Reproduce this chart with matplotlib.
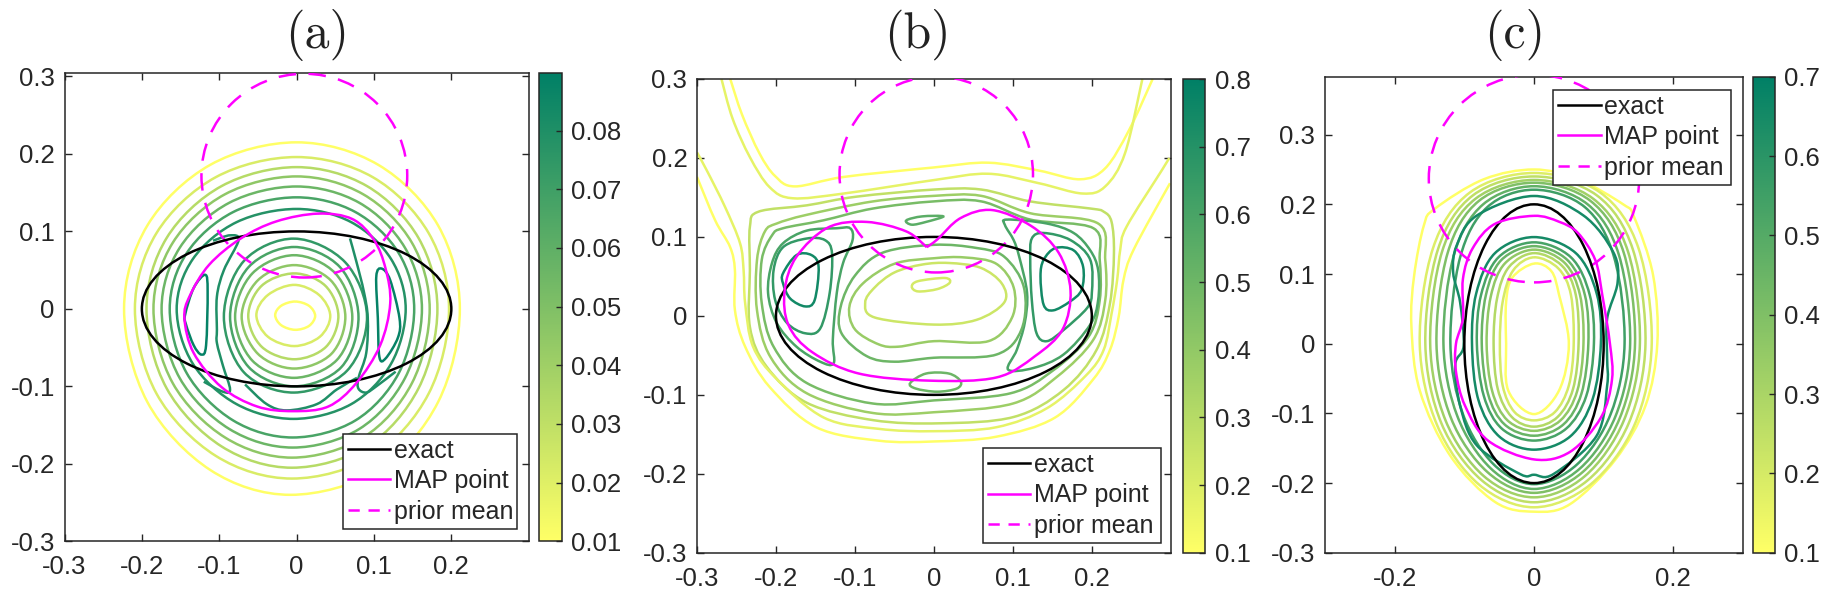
import numpy as np
import matplotlib
matplotlib.use('Agg')
import matplotlib.pyplot as plt
from matplotlib.cm import ScalarMappable
from matplotlib.colors import Normalize
from matplotlib.patches import Ellipse, PathPatch
from matplotlib.path import Path

plt.rcParams['font.family'] = ['Liberation Sans', 'DejaVu Sans']
plt.rcParams['axes.unicode_minus'] = False

# --- panel (a): contour lines, (x, y)
a_rings = [
    [(0, .215), (.1055, .186), (.183, .1075), (.211, 0), (.183, -.12), (.1055, -.208), (-.008, -.24), (-.1115, -.208),
     (-.193, -.12), (-.223, 0), (-.193, .1075), (-.1115, .186)],
    [(0, .196), (.0985, .17), (.1706, .098), (.197, 0), (.1706, -.1095), (.0985, -.1897), (-.006, -.219),
     (-.1045, -.1897), (-.181, -.1095), (-.209, 0), (-.181, .098), (-.1045, .17)],
    [(0, .183), (.091, .1585), (.1576, .0915), (.182, 0), (.1576, -.1025), (.091, -.1775), (-.006, -.205),
     (-.097, -.1775), (-.168, -.1025), (-.194, 0), (-.168, .0915), (-.097, .1585)],
    [(0, .171), (.086, .148), (.149, .0855), (.172, 0), (.149, -.096), (.086, -.166), (-.006, -.192), (-.0925, -.166),
     (-.16, -.096), (-.185, 0), (-.16, .0855), (-.0925, .148)],
    [(0, .158), (.081, .137), (.14, .079), (.162, 0), (.14, -.0895), (.081, -.155), (-.005, -.179), (-.087, -.155),
     (-.151, -.0895), (-.1745, 0), (-.151, .079), (-.087, .137)],
    [(0, .144), (.076, .125), (.132, .072), (.152, 0), (.132, -.083), (.076, -.144), (-.005, -.166), (-.082, -.144),
     (-.142, -.083), (-.164, 0), (-.142, .072), (-.082, .125)],
    [(0, .129), (.0705, .112), (.122, .0645), (.141, 0), (.122, -.071), (.0705, -.123), (-.004, -.142),
     (-.0775, -.123), (-.134, -.071), (-.155, 0), (-.134, .0645), (-.0775, .112)],
    [(-.002, .0095), (.016, .004), (.024, -.009), (.016, -.022), (-.002, -.027), (-.02, -.021), (-.0277, -.008),
     (-.02, .004)],
    [(-.003, .031), (.029, .018), (.0435, -.009), (.03, -.036), (-.003, -.048), (-.037, -.036), (-.052, -.008),
     (-.037, .018)],
    [(-.003, .0458), (.037, .03), (.054, -.009), (.038, -.049), (-.003, -.065), (-.045, -.049), (-.0625, -.009),
     (-.045, .03)],
    [(-.003, .0565), (.044, .037), (.063, -.01), (.045, -.058), (-.003, -.077), (-.05, -.058), (-.071, -.01),
     (-.05, .037)],
    [(-.003, .0693), (.05, .046), (.072, -.01), (.052, -.066), (-.003, -.089), (-.057, -.067), (-.0795, -.01),
     (-.057, .046)],
    [(-.003, .0799), (.056, .054), (.08, -.01), (.058, -.075), (-.003, -.1), (-.062, -.075), (-.086, -.01),
     (-.062, .054)],
    [(-.003, .0907), (.063, .06), (.091, -.01), (.065, -.08), (-.003, -.108), (-.068, -.082), (-.094, -.01),
     (-.068, .062)],
    [(-.144, -.007), (-.133, .027), (-.118, .044), (-.115, .022), (-.117, -.047), (-.123, -.059), (-.133, -.047),
     (-.143, -.02)],
    [(.103, .042), (.11, .052), (.121, .037), (.133, -.012), (.131, -.037), (.115, -.064), (.107, -.062),
     (.105, -.012)],
]
a_ring_levels = [.01, .022, .033, .045, .056, .067, .078, .01, .022, .033, .045, .056, .067, .074, .088, .088]
a_open = [
    [(-.108, .088), (-.086, .095), (-.075, .0886), (-.094, .05), (-.103, .016), (-.103, -.027), (-.103, -.044),
     (-.095, -.074), (-.086, -.104), (-.095, -.107), (-.12, -.094)],
    [(.069, .091), (.077, .062), (.087, .022), (.092, -.012), (.09, -.057), (.08, -.089), (.08, -.103), (.09, -.108),
     (.103, -.1), (.128, -.081)],
    [(-.0666, -.0975), (-.0385, -.123), (-.0126, -.131), (.026, -.123), (.052, -.104), (.078, -.089)],
]
a_open_levels = [.08, .08, .08]
a_map = [(.028, .123), (-.026, .113), (-.072, .091), (-.113, .057), (-.138, .017), (-.145, -.012), (-.133, -.057),
         (-.097, -.101), (-.051, -.126), (-.005, -.132), (.041, -.126), (.077, -.096), (.108, -.047), (.121, .007),
         (.115, .052), (.1, .089), (.072, .116)]

# --- panel (b)
b_rings = [
    [(0, .16), (.06, .16), (.122, .145), (.198, .136), (.215, .132), (.225, .119), (.228, .079), (.223, .016),
     (.206, -.043), (.164, -.094), (.101, -.128), (.008, -.136), (-.077, -.132), (-.161, -.11), (-.212, -.064),
     (-.233, -.014), (-.233, .058), (-.233, .113), (-.222, .132), (-.161, .14), (-.098, .151)],
    [(0, .152), (.06, .152), (.122, .13), (.208, .117), (.217, .071), (.217, .02), (.202, -.03), (.156, -.077),
     (.1, -.111), (0, -.122), (-.077, -.123), (-.161, -.098), (-.207, -.052), (-.224, .007), (-.224, .071),
     (-.214, .107), (-.199, .117), (-.161, .128), (-.077, .145)],
    [(0, .145), (.06, .145), (.122, .122), (.202, .111), (.21, .071), (.21, .02), (.196, -.026), (.151, -.069),
     (.097, -.098), (0, -.107), (-.077, -.111), (-.161, -.085), (-.203, -.039), (-.218, .016), (-.218, .071),
     (-.205, .102), (-.191, .111), (-.14, .121), (-.077, .136)],
    [(-.106, .111), (-.103, .096), (-.115, .067), (-.123, .029), (-.128, -.03), (-.127, -.06), (-.144, -.058),
     (-.174, -.039), (-.199, -.009), (-.21, .029), (-.205, .067), (-.191, .092), (-.161, .108), (-.123, .111)],
    [(.093, .122), (.09, .115), (.101, .096), (.108, .075), (.118, .029), (.115, -.009), (.105, -.043), (.094, -.068),
     (.126, -.066), (.164, -.049), (.198, -.011), (.208, .02), (.208, .058), (.198, .083), (.177, .105), (.143, .117)],
    [(-.203, .058), (-.191, .087), (-.161, .098), (-.138, .096), (-.129, .079), (-.132, .029), (-.144, -.016),
     (-.163, -.022), (-.186, -.009), (-.201, .02)],
    [(.124, .098), (.139, .105), (.173, .096), (.198, .071), (.2, .029), (.194, .01), (.164, -.018), (.143, -.032),
     (.13, -.022), (.124, .02), (.122, .071)],
    [(-.191, .054), (-.174, .077), (-.155, .077), (-.146, .062), (-.151, .02), (-.163, .012), (-.182, .022),
     (-.191, .041)],
    [(.139, .071), (.154, .086), (.177, .083), (.189, .062), (.187, .033), (.172, .018), (.151, .007), (.139, .014),
     (.135, .05)],
    [(-.118, .012), (-.117, -.022), (-.085, -.051), (-.05, -.058), (0, -.053), (.079, -.049), (.111, -.017),
     (.114, .036), (.089, .075), (.054, .086), (0, .09), (-.065, .08), (-.1, .051)],
    [(-.107, .012), (-.1, -.017), (-.07, -.036), (-.045, -.039), (0, -.032), (.069, -.032), (.099, -.002),
     (.101, .036), (.079, .066), (.039, .074), (0, .073), (-.05, .066), (-.09, .041)],
    [(-.087, .017), (-.075, -.002), (0, -.011), (.054, -.005), (.089, .017), (.086, .041), (.059, .061), (.019, .067),
     (-.015, .065), (-.05, .055), (-.075, .036)],
    [(-.028, .037), (-.02, .044), (.014, .048), (.02, .042), (.0045, .034), (-.02, .031)],
    [(-.035, .121), (-.015, .126), (.012, .126), (-.01, .119), (-.028, .1155)],
    [(-.03, -.085), (-.01, -.073), (.019, -.073), (.034, -.083), (.029, -.092), (.004, -.096), (-.023, -.092)],
]
b_ring_levels = [.27, .37, .47, .6, .6, .66, .66, .75, .75, .5, .38, .24, .22, .55, .5]
b_open = [
    [(-.258, .3005), (-.243, .255), (-.221, .206), (-.201, .177), (-.176, .164), (-.114, .176), (0, .188), (.069, .194),
     (.133, .184), (.185, .173), (.217, .187), (.247, .235), (.277, .3)],
    [(-.269, .3), (-.255, .25), (-.233, .201), (-.208, .163), (-.179, .149), (-.114, .155), (0, .172), (.069, .18),
     (.133, .168), (.188, .155), (.217, .164), (.242, .206), (.264, .3)],
    [(-.3, .176), (-.277, .121), (-.258, .087), (-.252, .058), (-.252, .0075), (-.239, -.039), (-.208, -.09),
     (-.149, -.141), (-.07, -.158), (0, -.159), (.079, -.153), (.153, -.129), (.202, -.08), (.223, -.043), (.234, -.001),
     (.24, .045), (.253, .084), (.299, .168)],
    [(-.3, .207), (-.288, .185), (-.2645, .138), (-.2455, .092), (-.241, .058), (-.239, .016), (-.229, -.039),
     (-.199, -.08), (-.139, -.129), (-.07, -.143), (0, -.146), (.079, -.141), (.143, -.117), (.193, -.075),
     (.215, -.043), (.225, .003), (.232, .045), (.236, .084), (.244, .113), (.289, .185), (.298, .2)],
]
b_open_levels = [.1, .17, .1, .17]
b_map = [(-.009, .087), (-.035, .107), (-.085, .119), (-.134, .112), (-.174, .075), (-.189, .032), (-.184, -.012),
         (-.154, -.046), (-.095, -.073), (-.005, -.082), (.079, -.078), (.128, -.051), (.163, -.017), (.173, .032),
         (.158, .08), (.123, .114), (.074, .134), (.034, .124), (.0045, .097), (-.009, .087)]

# --- panel (c)
c_rings = [
    [(0, .25), (-.072, .236), (-.142, .194), (-.158, .17), (-.172, .098), (-.176, .026), (-.164, -.067), (-.12, -.161),
     (-.056, -.227), (0, -.241), (.052, -.23), (.117, -.166), (.16, -.089), (.177, 0), (.171, .098), (.144, .181),
     (.128, .2), (.063, .236)],
    [(0, .245), (.095, .217), (.15, .137), (.169, 0), (.144, -.117), (.081, -.202), (0, -.2347), (-.079, -.202),
     (-.139, -.117), (-.164, 0), (-.145, .137), (-.092, .217)],
    [(0, .24), (.09, .213), (.142, .135), (.16, 0), (.136, -.114), (.077, -.196), (0, -.2275), (-.075, -.196),
     (-.133, -.114), (-.156, 0), (-.138, .135), (-.0875, .213)],
    [(0, .235), (.085, .208), (.135, .132), (.152, 0), (.129, -.11), (.073, -.19), (0, -.2204), (-.072, -.19),
     (-.127, -.11), (-.149, 0), (-.132, .132), (-.084, .208)],
    [(0, .231), (.081, .205), (.129, .13), (.145, 0), (.123, -.107), (.07, -.184), (0, -.214), (-.067, -.184),
     (-.119, -.107), (-.14, 0), (-.124, .13), (-.079, .205)],
    [(0, .226), (.077, .2), (.122, .127), (.138, 0), (.117, -.104), (.066, -.179), (0, -.2084), (-.062, -.179),
     (-.11, -.104), (-.13, 0), (-.115, .127), (-.073, .2)],
    [(0, .221), (.073, .196), (.115, .124), (.13, 0), (.11, -.101), (.062, -.173), (0, -.2015), (-.058, -.173),
     (-.102, -.101), (-.12, 0), (-.106, .124), (-.067, .196)],
    [(0, .212), (.071, .184), (.114, .131), (.12, .088), (.105, .036), (.105, -.022), (.105, -.06), (.09, -.132),
     (.028, -.187), (0, -.188), (-.02, -.187), (-.082, -.146), (-.106, -.089), (-.113, -.03), (-.101, -.003),
     (-.106, .059), (-.116, .102), (-.111, .141), (-.082, .184)],
    [(0, .115), (-.031, .095), (-.04, .06), (-.04, 0), (-.037, -.067), (0, -.101), (.036, -.067), (.05, 0), (.036, .07),
     (.025, .104)],
    [(0, .124), (.035, .108), (.053, .07), (.057, 0), (.05, -.06), (.03, -.098), (0, -.11), (-.028, -.098),
     (-.045, -.06), (-.049, 0), (-.045, .06), (-.03, .105)],
    [(0, .13), (.04, .112), (.06, .07), (.064, 0), (.056, -.065), (.034, -.105), (0, -.119), (-.032, -.105),
     (-.052, -.065), (-.058, 0), (-.053, .065), (-.036, .11)],
    [(0, .135), (.044, .116), (.066, .07), (.071, 0), (.062, -.068), (.038, -.11), (0, -.125), (-.038, -.11),
     (-.06, -.068), (-.068, 0), (-.062, .068), (-.042, .115)],
    [(0, .14), (.048, .12), (.073, .07), (.078, 0), (.068, -.072), (.042, -.116), (0, -.132), (-.042, -.116),
     (-.066, -.072), (-.075, 0), (-.069, .07), (-.047, .12)],
    [(0, .1455), (.053, .124), (.08, .07), (.086, 0), (.075, -.075), (.046, -.122), (0, -.139), (-.046, -.122),
     (-.072, -.075), (-.082, 0), (-.076, .07), (-.051, .124)],
    [(0, .153), (.06, .13), (.09, .072), (.096, 0), (.084, -.08), (.052, -.133), (0, -.152), (-.05, -.133),
     (-.08, -.08), (-.089, 0), (-.083, .072), (-.056, .13)],
]
c_ring_levels = [.1, .18, .25, .32, .4, .47, .55, .65, .1, .2, .28, .36, .45, .53, .65]
c_map = [(0, .1835), (-.056, .172), (-.088, .137), (-.102, .093), (-.102, .037), (-.112, 0), (-.112, -.04),
         (-.099, -.089), (-.066, -.139), (0, -.166), (.052, -.155), (.096, -.106), (.112, -.051), (.109, 0),
         (.098, .07), (.088, .12), (.063, .159), (.036, .175)]

# exact shape and prior mean: centre x, centre y, width, height
a_exact = (0, 0, .4, .2)
b_exact = (0, 0, .4, .2)
c_exact = (0, 0, .2, .4)
a_prior = (.01, .172, .266, .263)
b_prior = (.003, .179, .245, .248)
c_prior = (0, .237, .302, .298)

a_yticks = [-.3, -.2, -.1, 0, .1, .2, .3]
a_ytick_labels = ['-0.3', '-0.2', '-0.1', '0', '0.1', '0.2', '0.3']
a_xticks = [-.3, -.2, -.1, 0, .1, .2]
a_xtick_labels = ['-0.3', '-0.2', '-0.1', '0', '0.1', '0.2']
c_xticks = [-.2, 0, .2]
c_xtick_labels = ['-0.2', '0', '0.2']
a_cbar_ticks = [.01, .02, .03, .04, .05, .06, .07, .08]
b_cbar_ticks = [.1, .2, .3, .4, .5, .6, .7, .8]
c_cbar_ticks = [.1, .2, .3, .4, .5, .6, .7]

W, H = 1830, 602
DARK = '#262626'
cmap = plt.get_cmap('summer_r')


def px_axes(fig, x0, x1, y0, y1):
    # axes from pixel edges, y counted from the top of the image
    return fig.add_axes([x0 / W, 1 - y1 / H, (x1 - x0) / W, (y1 - y0) / H])


def smooth_path(pts, closed):
    # Catmull-Rom through the read points, as bezier segments
    p = np.array(pts, dtype=float)
    n = len(p)
    verts = [p[0]]
    codes = [Path.MOVETO]
    for i in range(n if closed else n - 1):
        if closed:
            p0, p1, p2, p3 = p[(i - 1) % n], p[i], p[(i + 1) % n], p[(i + 2) % n]
        else:
            p0, p1, p2, p3 = p[max(i - 1, 0)], p[i], p[i + 1], p[min(i + 2, n - 1)]
        verts += [p1 + (p2 - p0) / 6, p2 - (p3 - p1) / 6, p2]
        codes += [Path.CURVE4] * 3
    return Path(verts, codes)


def draw_curves(ax, curves, levels, norm, closed):
    for pts, lev in zip(curves, levels):
        ax.add_patch(PathPatch(smooth_path(pts, closed), fill=False, ec=cmap(norm(lev)), lw=1.8, zorder=2))


def panel(fig, box, cbox, ylim, rings, ring_levels, opens, open_levels, map_pts, map_closed, exact, prior,
          xticks, xlabels, vmin, vmax, cticks, leg_box):
    ax = px_axes(fig, *box)
    norm = Normalize(vmin, vmax)
    draw_curves(ax, rings, ring_levels, norm, True)
    draw_curves(ax, opens, open_levels, norm, False)

    ax.add_patch(Ellipse(prior[:2], prior[2], prior[3], fill=False, ec='#ff00ff', lw=1.8,
                         linestyle=(0, (7, 5)), zorder=3))
    ax.add_patch(Ellipse(exact[:2], exact[2], exact[3], fill=False, ec='black', lw=1.8, zorder=4))
    ax.add_patch(PathPatch(smooth_path(map_pts, map_closed), fill=False, ec='#ff00ff', lw=1.8, zorder=5))

    ax.plot([], [], color='black', lw=1.8, label='exact')
    ax.plot([], [], color='#ff00ff', lw=1.8, label='MAP point')
    ax.plot([], [], color='#ff00ff', lw=1.8, linestyle=(0, (4.5, 3.5)), label='prior mean')
    leg = ax.legend(loc='lower left', bbox_to_anchor=leg_box, mode='expand', borderaxespad=0, fontsize=18,
                    fancybox=False, framealpha=1, edgecolor=DARK, handlelength=1.7, handletextpad=.15,
                    labelspacing=.26, borderpad=.2, labelcolor=DARK)
    leg.get_frame().set_linewidth(1.1)
    leg.set_zorder(10)

    ax.set_xlim(-.3, .3)
    ax.set_ylim(*ylim)
    ax.set_xticks(xticks)
    ax.set_xticklabels(xlabels)
    ax.set_yticks(a_yticks)
    ax.set_yticklabels(a_ytick_labels)
    ax.tick_params(direction='in', length=5, width=1, top=True, right=True, labelsize=18.5, colors=DARK)
    ax.tick_params(axis='x', pad=10)
    ax.tick_params(axis='y', pad=7)
    for s in ax.spines.values():
        s.set_linewidth(1.1)
        s.set_color(DARK)

    cax = px_axes(fig, *cbox)
    cb = fig.colorbar(ScalarMappable(norm=norm, cmap=cmap), cax=cax)
    cb.set_ticks(cticks)
    cb.set_ticklabels(['%g' % t for t in cticks])
    cax.tick_params(direction='in', length=4, width=1, labelsize=18.5, colors=DARK, pad=7)
    cb.outline.set_linewidth(1.1)
    cb.outline.set_edgecolor(DARK)


fig = plt.figure(figsize=(W / 100, H / 100), dpi=100)

panel(fig, (64.5, 528.7, 73, 541.3), (539, 561.5, 73, 541.3), (-.3, .3045),
      a_rings, a_ring_levels, a_open, a_open_levels, a_map, True, a_exact, a_prior,
      a_xticks, a_xtick_labels, .01, .0898, a_cbar_ticks, (.5995, .027, .375, .2))
panel(fig, (697, 1170.8, 79, 552.8), (1182.7, 1204.8, 79, 552.8), (-.3, .3),
      b_rings, b_ring_levels, b_open, b_open_levels, b_map, False, b_exact, b_prior,
      a_xticks, a_xtick_labels, .1, .8, b_cbar_ticks, (.6036, .021, .3757, .2))
panel(fig, (1325, 1743, 76.8, 552.8), (1752.8, 1774.6, 76.8, 552.8), (-.3, .383),
      c_rings, c_ring_levels, [], [], c_map, True, c_exact, c_prior,
      c_xticks, c_xtick_labels, .1, .7, c_cbar_ticks, (.5455, .7735, .4266, .2))

for label, xpx in zip(['(a)', '(b)', '(c)'], [317, 917, 1515]):
    fig.text(xpx / W, 1 - 35 / H, label, family='cmr10', fontsize=36, ha='center', va='center', color='#222222')

fig.savefig('out.png', dpi=100)
